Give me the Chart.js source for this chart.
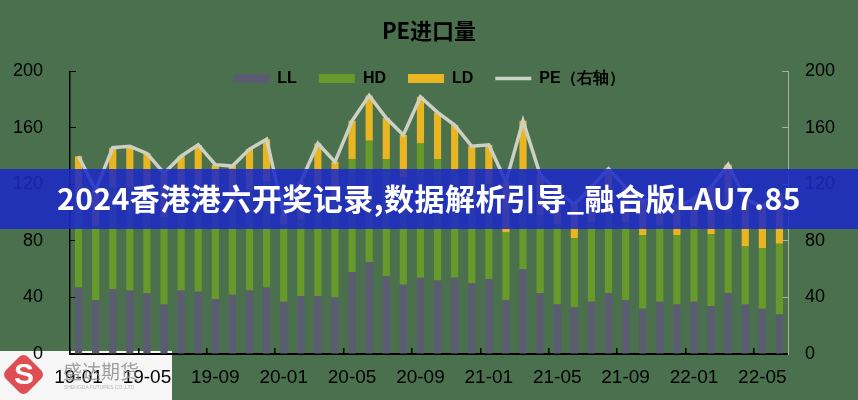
<!DOCTYPE html>
<html>
<head>
<meta charset="utf-8">
<script src="https://cdn.jsdelivr.net/npm/chart.js@4.4.0/dist/chart.umd.min.js"></script>
<style>
  body { margin: 0; background: #4a704e; }
  #wrap { position: relative; width: 858px; height: 400px; overflow: hidden; }
  #chartBox { position: absolute; left: 0; top: 0; width: 858px; height: 400px; z-index: 1; }
  #logoBg { position: absolute; left: 0; top: 351px; width: 172px; height: 49px; background: #f6f6f6; z-index: 0; }
  #logo { position: absolute; left: 0; top: 351px; width: 172px; height: 49px; z-index: 2; opacity: 0.8; }
  #logo .mark { position: absolute; left: 8px; top: 8px; width: 31px; height: 31px; background: #d8262a;
    transform: rotate(45deg); border-radius: 6px; }
  #logo .s { position: absolute; left: 11px; top: 6px; width: 26px; text-align: center; color: #fff;
    font: bold 30px 'Liberation Sans', sans-serif; }
  #logo .cn { position: absolute; left: 63px; top: 6px; color: #8a8a8a; font: 19px 'Noto Sans CJK SC', sans-serif; }
  #logo .en { position: absolute; left: 64px; top: 33px; color: #aaa; font: 5px 'Liberation Sans', sans-serif; }
  #banner { position: absolute; left: 0; top: 169px; width: 858px; height: 60px; z-index: 3;
    background: rgba(28, 40, 200, 0.86); color: #fff; text-align: center; line-height: 60px;
    font: bold 30px 'Noto Sans CJK SC', sans-serif; letter-spacing: 0.5px; }
  #banner span { position: relative; top: 6px; }
</style>
</head>
<body>
<div id="wrap">
  <div id="logoBg"></div>
  <div id="chartBox"><canvas id="peChart"></canvas></div>
  <div id="banner"><span>2024香港港六开奖记录,数据解析引导_融合版LAU7.85</span></div>
  <div id="logo">
    <div class="mark"></div><div class="s">S</div>
    <div class="cn">盛达期货</div>
    <div class="en">SHENGDA FUTURES CO.,LTD</div>
  </div>
</div>
<script>
// PE 进口量 data
const months = ['19-01','19-02','19-03','19-04','19-05','19-06','19-07','19-08','19-09','19-10','19-11','19-12',
                '20-01','20-02','20-03','20-04','20-05','20-06','20-07','20-08','20-09','20-10','20-11','20-12',
                '21-01','21-02','21-03','21-04','21-05','21-06','21-07','21-08','21-09','21-10','21-11','21-12',
                '22-01','22-02','22-03','22-04','22-05','22-06'];
const llData = [47, 38, 46, 45, 43, 35, 45, 44, 39, 42, 45, 47, 37, 41, 41, 40, 58, 65, 55, 49, 54,
                52, 54, 50, 53, 38, 60, 43, 35, 33, 37, 43, 38, 32, 37, 35, 37, 34, 43, 35, 32, 28];
const hdData = [65, 53, 72, 73, 71, 62, 67, 74, 67, 63, 71, 75, 55, 54, 79, 70, 80, 86, 83, 76, 95,
                86, 76, 68, 67, 48, 70, 55, 57, 49, 56, 57, 55, 52, 54, 49, 53, 51, 57, 41, 43, 50];
const ldData = [28, 25, 28, 29, 28, 31, 28, 30, 28, 28, 29, 30, 7, 27, 29, 26, 27, 32, 29, 30, 33,
                33, 32, 29, 28, 36, 35, 29, 23, 24, 25, 31, 25, 24, 21, 20, 20, 33, 34, 34, 29, 36];
const peData = [140, 116, 146, 147, 142, 128, 140, 148, 134, 133, 145, 152, 99, 122, 149, 136, 165, 183, 167, 155, 182,
                171, 162, 147, 148, 122, 165, 127, 115, 106, 118, 131, 118, 108, 112, 104, 110, 118, 134, 110, 104, 114];
const yTicks = [0, 40, 80, 120, 160, 200];

const numFont = "'Liberation Sans', Arial, sans-serif";

// the legend only reserves 23px but draws down into the plot area (no clipping)
const legendRoom = {
    id: 'legendRoom',
    afterLayout(chart) {
        const lg = chart.legend;
        lg.bottom = lg.top + 44;
        lg.height = 44;
    }
};

const barCommon = {
    stack: 'pe',
    yAxisID: 'y',
    barPercentage: 0.42,
    categoryPercentage: 1,
    borderWidth: 0,
    pointStyle: 'rect',
    order: 1
};

const ctx = document.getElementById('peChart').getContext('2d');
new Chart(ctx, {
    type: 'bar',
    data: {
        labels: months,
        datasets: [
            Object.assign({ label: 'LL', data: llData, backgroundColor: '#5b5c72' }, barCommon),
            Object.assign({ label: 'HD', data: hdData, backgroundColor: '#67992b' }, barCommon),
            Object.assign({ label: 'LD', data: ldData, backgroundColor: '#e9b622' }, barCommon),
            {
                type: 'line',
                label: 'PE（右轴）',
                data: peData,
                yAxisID: 'y1',
                borderColor: '#cdd1c3',
                backgroundColor: '#cdd1c3',
                borderWidth: 3.5,
                pointRadius: 0,
                tension: 0,
                pointStyle: 'line',
                order: 0
            }
        ]
    },
    options: {
        responsive: true,
        maintainAspectRatio: false,
        animation: false,
        layout: { padding: 0 },
        plugins: {
            title: {
                display: true,
                text: 'PE进口量',
                color: '#000',
                font: { family: "'Noto Sans CJK SC', sans-serif", weight: 'bold', size: 22 },
                padding: { top: 17, bottom: 5 }
            },
            legend: {
                position: 'top',
                maxHeight: 23,
                labels: {
                    usePointStyle: true,
                    pointStyleWidth: 36,
                    boxHeight: 9,
                    padding: 22,
                    color: '#000',
                    font: { family: numFont, weight: 'bold', size: 16 },
                    sort: (a, b) => a.datasetIndex - b.datasetIndex
                }
            },
            tooltip: { enabled: false }
        },
        scales: {
            x: {
                stacked: true,
                offset: true,
                afterFit: s => { s.height = 46; },
                grid: {
                    display: true,
                    drawOnChartArea: false,
                    offset: true,
                    tickLength: -6,
                    lineWidth: 1.5,
                    color: c => (c.index % 4 === 0 ? '#000' : 'rgba(0,0,0,0)')
                },
                border: { color: '#000', width: 2 },
                ticks: {
                    autoSkip: false,
                    maxRotation: 0,
                    padding: 18,
                    color: '#000',
                    font: { family: numFont, size: 19 },
                    callback(value, index) {
                        return index % 4 === 0 ? this.getLabelForValue(value) : '';
                    }
                }
            },
            y: {
                stacked: true,
                position: 'left',
                min: yTicks[0],
                max: yTicks[yTicks.length - 1],
                afterFit: s => { s.width = 70; },
                grid: { drawOnChartArea: false, tickLength: -6, color: '#000' },
                border: { color: '#000', width: 1.5 },
                ticks: { stepSize: 40, padding: 33, color: '#000', font: { family: numFont, size: 18 } }
            },
            y1: {
                position: 'right',
                min: yTicks[0],
                max: yTicks[yTicks.length - 1],
                afterFit: s => { s.width = 70; },
                grid: { drawOnChartArea: false, tickLength: -6, color: '#a9b0a6' },
                border: { color: '#a9b0a6', width: 1 },
                ticks: { stepSize: 40, padding: 23, color: '#000', font: { family: numFont, size: 18 } }
            }
        }
    },
    plugins: [legendRoom]
});
</script>
</body>
</html>
